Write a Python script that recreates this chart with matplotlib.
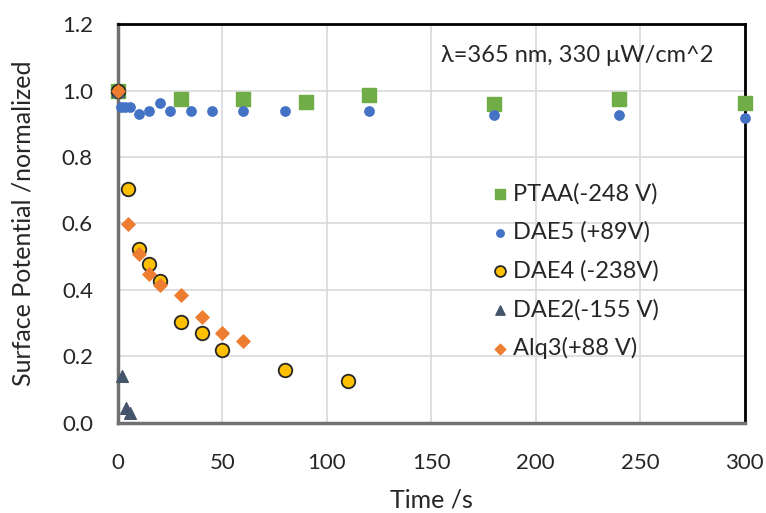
import matplotlib
matplotlib.use("Agg")
import matplotlib.pyplot as plt

# data
ptaa_t = [0, 30, 60, 90, 120, 180, 240, 300]
ptaa_v = [1.0, 0.975, 0.974, 0.965, 0.987, 0.96, 0.975, 0.962]

dae5_t = [0, 1.5, 3.5, 6, 10, 15, 20, 25, 35, 45, 60, 80, 120, 180, 240, 300]
dae5_v = [1.0, 0.95, 0.95, 0.95, 0.929, 0.939, 0.962, 0.939, 0.939, 0.939, 0.939, 0.939,
          0.939, 0.927, 0.927, 0.918]

dae4_t = [0, 5, 10, 15, 20, 30, 40, 50, 80, 110]
dae4_v = [1.0, 0.703, 0.523, 0.478, 0.426, 0.303, 0.27, 0.219, 0.159, 0.126]

dae2_t = [0, 2, 4, 6]
dae2_v = [1.0, 0.141, 0.044, 0.03]

alq3_t = [0, 5, 10, 15, 20, 30, 40, 50, 60]
alq3_v = [1.0, 0.598, 0.508, 0.448, 0.416, 0.383, 0.318, 0.269, 0.246]

plt.rcParams['font.family'] = ['Lato', 'DejaVu Sans']

fig = plt.figure(figsize=(7.66, 5.13), dpi=100)
ax = fig.add_axes([0.154, 0.176, 0.818, 0.777])

kw = dict(zorder=3, clip_on=False)
ax.scatter(ptaa_t, ptaa_v, marker='s', s=95, color='#70ad47', label='PTAA(-248 V)', **kw)
ax.scatter(dae5_t, dae5_v, marker='o', s=45, color='#4472c4', label='DAE5 (+89V)', **kw)
ax.scatter(dae4_t, dae4_v, marker='o', s=95, color='#ffc000', edgecolor='#262626',
           linewidth=1.3, label='DAE4 (-238V)', **kw)
ax.scatter(dae2_t, dae2_v, marker='^', s=70, color='#44546a', label='DAE2(-155 V)', **kw)
ax.scatter(alq3_t, alq3_v, marker='D', s=45, color='#ed7d31', label='Alq3(+88 V)', **kw)

ax.set_xlim(0, 300)
ax.set_ylim(0, 1.2)
ax.set_xticks(range(0, 301, 50))
ax.set_yticks([0, 0.2, 0.4, 0.6, 0.8, 1.0, 1.2])
ax.set_yticklabels(['0.0', '0.2', '0.4', '0.6', '0.8', '1.0', '1.2'])
ax.tick_params(length=0, labelsize=16, colors='#262626')
ax.tick_params(axis='x', pad=22)
ax.tick_params(axis='y', pad=18)
ax.grid(color='#d9d9d9', linewidth=1.2)
ax.set_axisbelow(True)

ax.spines['left'].set_color('#707070')
ax.spines['bottom'].set_color('#707070')
ax.spines['left'].set_linewidth(2.5)
ax.spines['bottom'].set_linewidth(2.5)
ax.spines['top'].set_color('black')
ax.spines['right'].set_color('black')
ax.spines['top'].set_linewidth(2)
ax.spines['right'].set_linewidth(2)

ax.set_xlabel('Time /s', fontsize=18, color='#262626', labelpad=11)
ax.set_ylabel('Surface Potential /normalized', fontsize=18, color='#262626', labelpad=20)

ax.text(0.515, 0.905, 'λ=365 nm, 330 μW/cm^2', transform=ax.transAxes,
        fontsize=17, color='#262626')

ax.legend(loc='upper left', bbox_to_anchor=(0.576, 0.625), frameon=False, fontsize=17,
          handlelength=1.0, handletextpad=0.05, labelspacing=0.72, markerscale=0.8,
          borderaxespad=0, labelcolor='#262626')

fig.savefig('out.png', dpi=100)
